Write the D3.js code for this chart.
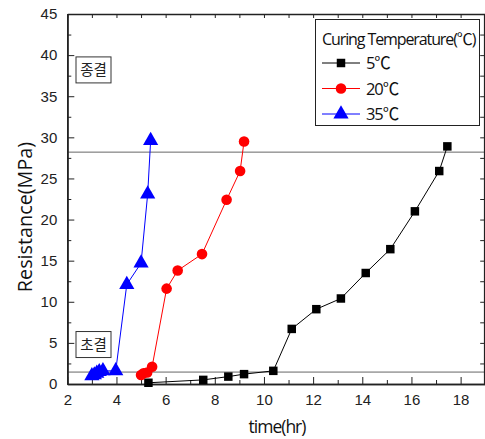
<!DOCTYPE html>
<html><head><meta charset="utf-8">
<script src="https://cdn.jsdelivr.net/npm/d3@7"></script>
<style>body{margin:0;background:#fff;}svg{display:block;}</style>
</head><body>
<script>
const xTicks = [2,4,6,8,10,12,14,16,18];
const yTicks = [0,5,10,15,20,25,30,35,40,45];
const seriesNames = ["5℃","20℃","35℃"];
const seriesColors = ["#000000","#ff0000","#0000ff"];
const t5 = [5.3,7.53,8.55,9.19,10.38,11.13,12.13,13.13,14.14,15.14,16.14,17.13,17.46];
const r5 = [0.15,0.5,0.9,1.2,1.6,6.7,9.1,10.4,13.5,16.4,21.0,25.9,28.9];
const t20 = [5.0,5.1,5.25,5.45,6.04,6.49,7.48,8.48,9.03,9.19];
const r20 = [1.1,1.3,1.4,2.1,11.6,13.8,15.8,22.4,25.9,29.5];
const t35 = [3.0,3.1,3.2,3.3,3.45,3.97,4.42,5.0,5.27,5.39];
const r35 = [1.0,1.1,1.3,1.5,1.6,1.6,12.1,14.7,23.1,29.6];
const refLines = [28.2,1.45];
const notes = [{label:"종결", y:38.2},{label:"초결", y:4.8}];

const W=485,H=439;
const svg=d3.select("body").append("svg").attr("width",W).attr("height",H);
const L=67.3,R=485.2,T=14,B=384;
const x=d3.scaleLinear().domain([2,19]).range([L,R]);
const y=d3.scaleLinear().domain([0,45]).range([B,T]);
const tickFont="'Liberation Sans',Arial,sans-serif";
const txtFont="'Open Sans','Noto Sans CJK KR',sans-serif";

// reference lines
refLines.forEach(v=>{
  svg.append("line").attr("x1",L).attr("x2",R).attr("y1",y(v)).attr("y2",y(v))
    .attr("stroke","#222").attr("stroke-width",0.7);
});

// axes
const xb=svg.append("g").attr("transform",`translate(0,${B})`)
  .call(d3.axisBottom(x).tickValues(xTicks).tickSizeInner(-7).tickSizeOuter(0).tickPadding(10).tickFormat(d3.format("d")));
const xbm=svg.append("g").attr("transform",`translate(0,${B})`)
  .call(d3.axisBottom(x).tickValues(d3.range(3,19,2)).tickSize(-4).tickSizeOuter(0).tickFormat(""));
const xt=svg.append("g").attr("transform",`translate(0,${T})`)
  .call(d3.axisTop(x).tickValues(d3.range(2,19,1)).tickSize(-4).tickSizeOuter(0).tickFormat(""));
const yl=svg.append("g").attr("transform",`translate(${L},0)`)
  .call(d3.axisLeft(y).tickValues(yTicks).tickSizeInner(-7).tickSizeOuter(0).tickPadding(10).tickFormat(d3.format("d")));
const ylm=svg.append("g").attr("transform",`translate(${L},0)`)
  .call(d3.axisLeft(y).tickValues(d3.range(2.5,45,5)).tickSize(-4).tickSizeOuter(0).tickFormat(""));
const yr=svg.append("g").attr("transform",`translate(${R-1},0)`)
  .call(d3.axisRight(y).tickValues(d3.range(0,46,2.5)).tickSize(-4).tickSizeOuter(0).tickFormat(""));
[xb,xbm,xt,yl,ylm,yr].forEach(g=>{
  g.selectAll("path").attr("stroke","#222").attr("stroke-width",1.6);
  g.selectAll("line").attr("stroke","#222").attr("stroke-width",1);
  g.selectAll("text").attr("font-family",tickFont).attr("font-size",15).attr("fill","#222");
});

// series
const data=[[t5,r5],[t20,r20],[t35,r35]];
const symbols=[d3.symbolSquare,d3.symbolCircle,d3.symbolTriangle];
const sizes=[72,88,100];
const line=d3.line().x(d=>x(d[0])).y(d=>y(d[1]));
data.forEach(([ts,rs],i)=>{
  const pts=ts.map((t,j)=>[t,rs[j]]);
  svg.append("path").datum(pts).attr("d",line).attr("fill","none")
    .attr("stroke",seriesColors[i]).attr("stroke-width",1);
  svg.append("g").selectAll("path").data(pts).join("path")
    .attr("transform",d=>`translate(${x(d[0])},${y(d[1])})`)
    .attr("d",d3.symbol().type(symbols[i]).size(sizes[i]))
    .attr("fill",seriesColors[i]);
});

// note boxes
notes.forEach(n=>{
  const cx=93.5, cy=y(n.y);
  svg.append("rect").attr("x",cx-17.5).attr("y",cy-13).attr("width",35).attr("height",26)
    .attr("fill","#fff").attr("stroke","#333").attr("stroke-width",1);
  svg.append("text").attr("x",cx).attr("y",cy+5.5).attr("text-anchor","middle")
    .attr("font-family","'Noto Sans CJK KR',sans-serif").attr("font-size",14.5).attr("fill","#222").text(n.label);
});

// legend
const lg=svg.append("g");
lg.append("rect").attr("x",315.5).attr("y",19.5).attr("width",164).attr("height",106)
  .attr("fill","#fff").attr("stroke","#222").attr("stroke-width",1);
lg.append("text").attr("x",322).attr("y",45).attr("font-family",txtFont).attr("font-size",16)
  .attr("letter-spacing",-1.1).attr("fill","#111").text("Curing Temperature(℃)");
seriesNames.forEach((nm,i)=>{
  const cy=63+i*25.5;
  lg.append("line").attr("x1",322).attr("x2",360).attr("y1",cy).attr("y2",cy)
    .attr("stroke",seriesColors[i]).attr("stroke-width",1);
  lg.append("path").attr("transform",`translate(341,${cy})`)
    .attr("d",d3.symbol().type(symbols[i]).size(sizes[i])).attr("fill",seriesColors[i]);
  lg.append("text").attr("x",366).attr("y",cy+6).attr("font-family",txtFont).attr("font-size",16.5)
    .attr("letter-spacing",-1.1).attr("fill","#111").text(nm);
});

// axis titles
svg.append("text").attr("x",277).attr("y",433).attr("text-anchor","middle")
  .attr("font-family",txtFont).attr("font-size",17.5).attr("letter-spacing",-1).attr("fill","#111").text("time(hr)");
svg.append("text").attr("transform","translate(32,217) rotate(-90)").attr("text-anchor","middle")
  .attr("font-family",txtFont).attr("font-size",19.8).attr("fill","#111").text("Resistance(MPa)");
</script>
</body></html>
